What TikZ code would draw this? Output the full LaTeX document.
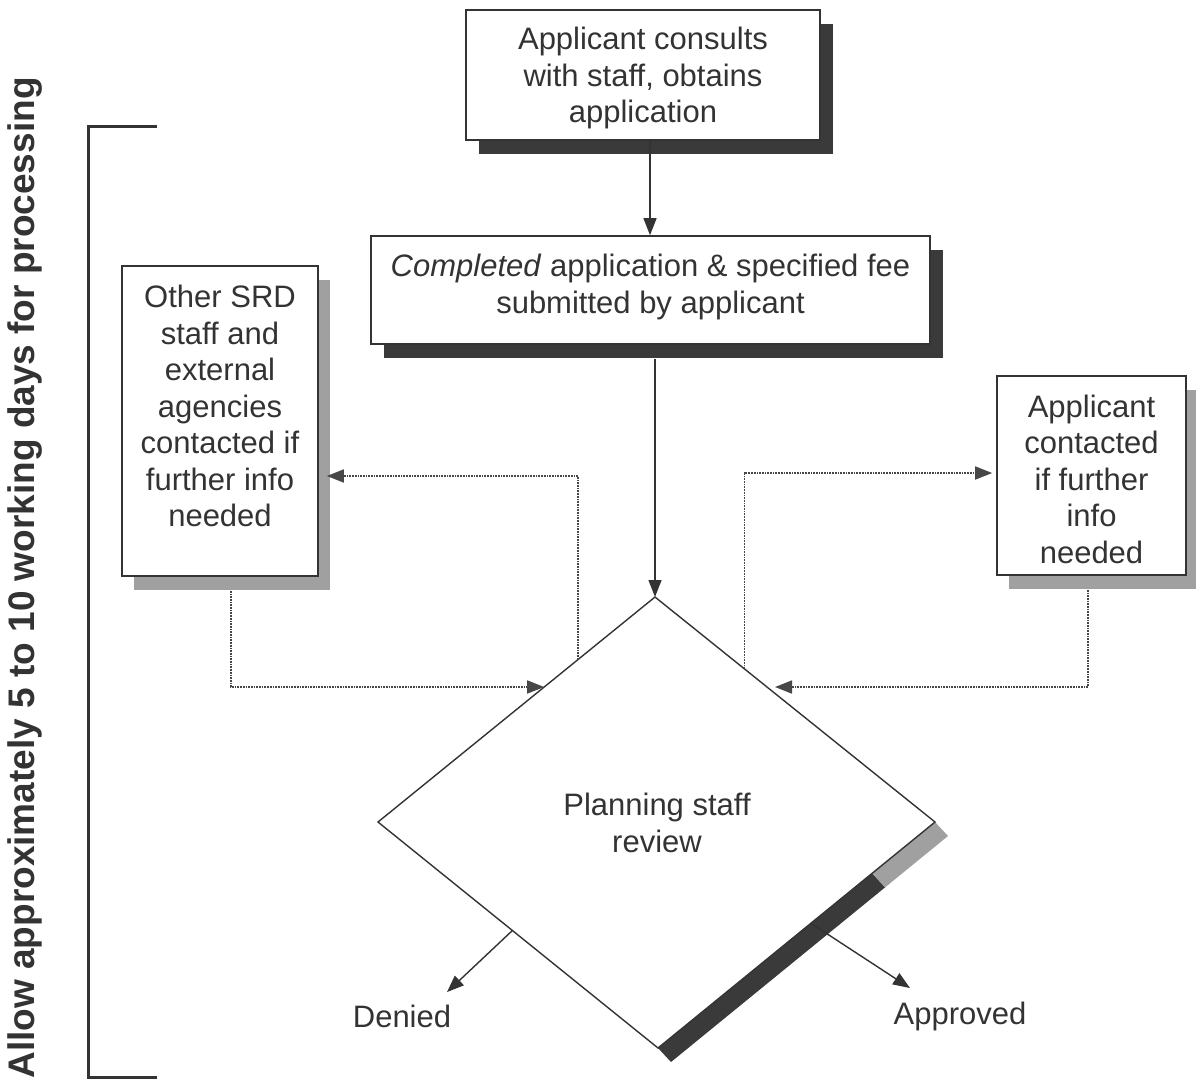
\documentclass[tikz,border=0pt]{standalone}
\usepackage{fontspec}
\setmainfont{Liberation Sans}
\usetikzlibrary{shapes.geometric,arrows.meta,calc,shadows}
\definecolor{ink}{HTML}{333333}
\definecolor{shdark}{HTML}{3A3A3A}
\definecolor{shlight}{HTML}{A0A0A0}
\begin{document}
\begin{tikzpicture}[x=1pt,y=-1pt,
  txt/.style={text=ink,font=\fontsize{31}{36.5}\selectfont,align=center},
  boxd/.style={txt,draw=ink,line width=1.6pt,fill=white,inner sep=0pt,
     drop shadow={shadow xshift=13pt,shadow yshift=-14pt,fill=shdark,opacity=1}},
  boxl/.style={txt,draw=ink,line width=1.6pt,fill=white,inner sep=0pt,
     drop shadow={shadow xshift=12pt,shadow yshift=-14pt,fill=shlight,opacity=1}},
  conn/.style={draw=ink,line width=1.4pt,-{Triangle[length=17pt,width=13pt]}},
  dotc/.style={draw=ink!90,line width=1.7pt,densely dotted,-{Triangle[length=17pt,width=13pt]}}
]
\useasboundingbox (0,0) rectangle (1196,1088);

% bracket and side label
\draw[ink,line width=3pt] (157,126) -- (88,126) -- (88,1077) -- (157,1077);
\node[rotate=90,text=ink,font=\fontsize{37}{40}\selectfont\bfseries] (side) at (25,578)
  {Allow approximately 5 to 10 working days for processing};

% boxes
\node[boxd,minimum width=354pt,minimum height=130pt] (top) at (643,75) {};
\node[txt] (topt) at (643,78) {Applicant consults\\with staff, obtains\\application};
\node[boxd,minimum width=559pt,minimum height=108pt] (mid) at (650.5,290) {};
\node[txt] (midt) at (650.5,287) {\textit{Completed} application \& specified fee\\submitted by applicant};
\node[boxl,minimum width=196pt,minimum height=310pt] (lbox) at (220,421) {};
\node[txt] (lboxt) at (220,406) {Other SRD\\staff and\\external\\agencies\\contacted if\\further info\\needed};
\node[boxl,minimum width=189pt,minimum height=199pt] (rbox) at (1091.5,475.5) {};
\node[txt] (rboxt) at (1091.5,479) {Applicant\\contacted\\if further\\info\\needed};

% diamond corners
\coordinate (dN) at (655,597);
\coordinate (dW) at (378,822);
\coordinate (dE) at (935,822);
\coordinate (dS) at (658,1048);
\coordinate (dP) at ($(dS)!0.773!(dE)$);
% diamond shadow
\fill[shdark] (dS) -- (dP) -- ($(dP)+(13,14)$) -- ($(dS)+(13,14)$) -- cycle;
\fill[shlight] (dP) -- (dE) -- ($(dE)+(13,14)$) -- ($(dP)+(13,14)$) -- cycle;
\filldraw[fill=white,draw=ink,line width=1.4pt] (dN) -- (dE) -- (dS) -- (dW) -- cycle;
\node[txt] (rev) at (657,823) {Planning staff\\review};

% main flow
\draw[conn] (top.south -| 650,0) -- (mid.north -| 650,0);
\draw[conn] (mid.south -| 655,0) ++(0,14) -- (dN);

% dotted feedback connectors
\coordinate (a1) at ($(dN)!0.278!(dW)$);
\coordinate (a2) at ($(dN)!0.4!(dW)$);
\coordinate (b1) at ($(dN)!0.32!(dE)$);
\coordinate (b2) at ($(dN)!0.4!(dE)$);
\draw[dotc] (a1) |- ($(lbox.east)+(8,55)$);
\draw[dotc] ($(lbox.south)+(11,14)$) |- (a2);
\draw[dotc] (b1) |- ($(rbox.west)+(-4,-2.5)$);
\draw[dotc] ($(rbox.south)+(-3.5,14)$) |- ($(b2)+(8,0)$);

% outcomes
\node[txt] (den) at (402,1016) {Denied};
\node[txt] (app) at (960,1016) {Approved};
\coordinate (dd) at ($(dW)!0.48!(dS)$);
\coordinate (aa) at ($(dE)!0.448!(dS)$);
\draw[conn] (dd) -- ($(den.north)+(45,-9)$);
\draw[conn] (aa) -- ($(app.north)+(-50,-10)$);
\end{tikzpicture}
\end{document}
